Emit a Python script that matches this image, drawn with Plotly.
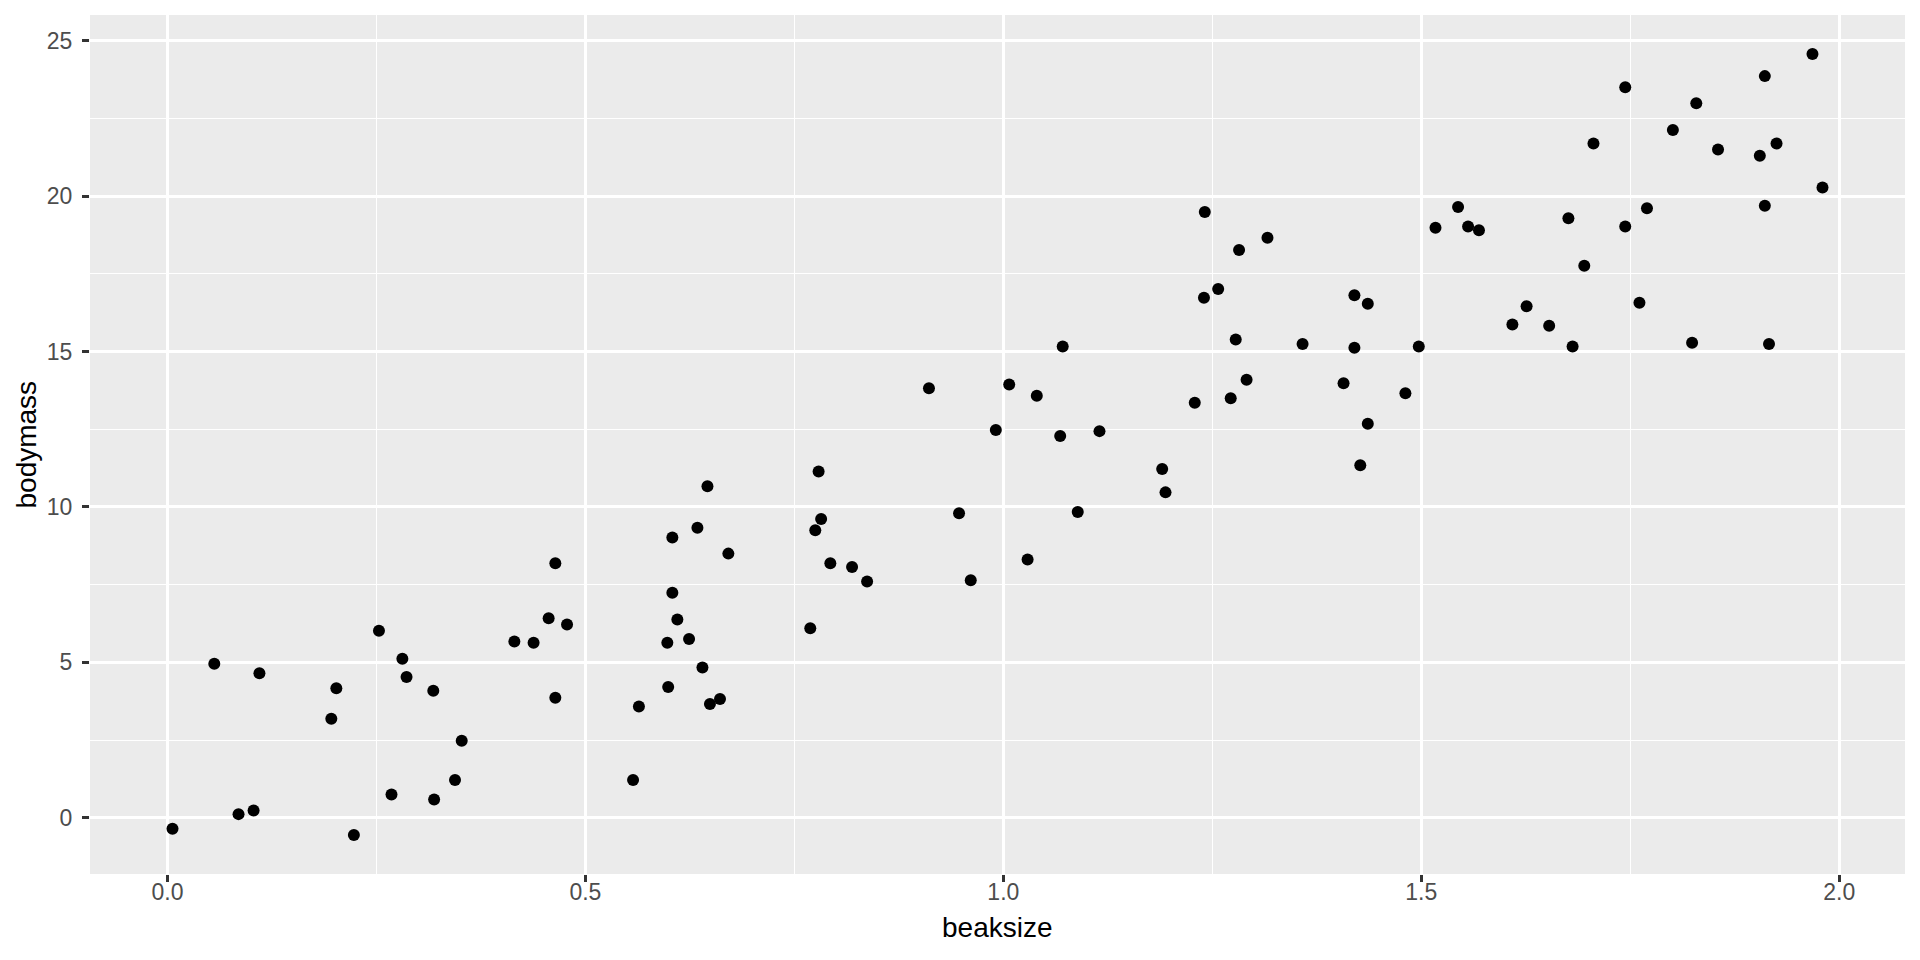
import plotly.graph_objects as go

beaksize = [0.006, 0.056, 0.085, 0.103, 0.110, 0.196, 0.202, 0.223, 0.253, 0.268,
            0.281, 0.286, 0.318, 0.319, 0.344, 0.352, 0.415, 0.438, 0.456, 0.464,
            0.464, 0.478, 0.557, 0.564, 0.598, 0.599, 0.604, 0.604, 0.610, 0.624,
            0.634, 0.640, 0.646, 0.649, 0.661, 0.671, 0.769, 0.775, 0.779, 0.782,
            0.793, 0.819, 0.837, 0.911, 0.947, 0.961, 0.991, 1.007, 1.029, 1.040,
            1.068, 1.071, 1.089, 1.115, 1.190, 1.194, 1.229, 1.240, 1.241, 1.257,
            1.272, 1.278, 1.282, 1.291, 1.316, 1.358, 1.407, 1.420, 1.420, 1.427,
            1.436, 1.436, 1.481, 1.497, 1.517, 1.544, 1.556, 1.569, 1.609, 1.626,
            1.653, 1.676, 1.681, 1.695, 1.706, 1.744, 1.744, 1.761, 1.770, 1.801,
            1.824, 1.829, 1.855, 1.905, 1.911, 1.911, 1.916, 1.925, 1.968, 1.980]

bodymass = [-0.35, 4.96, 0.12, 0.24, 4.65, 3.19, 4.17, -0.55, 6.02, 0.75,
            5.12, 4.53, 4.09, 0.59, 1.22, 2.48, 5.67, 5.63, 6.42, 8.19,
            3.86, 6.22, 1.22, 3.58, 5.63, 4.21, 9.02, 7.24, 6.38, 5.75,
            9.33, 4.84, 10.67, 3.66, 3.82, 8.50, 6.10, 9.25, 11.14, 9.61,
            8.19, 8.07, 7.60, 13.82, 9.80, 7.64, 12.48, 13.94, 8.31, 13.58,
            12.28, 15.16, 9.84, 12.44, 11.22, 10.47, 13.35, 16.73, 19.49, 17.01,
            13.50, 15.39, 18.27, 14.09, 18.66, 15.24, 13.98, 16.81, 15.12, 11.34,
            16.54, 12.68, 13.66, 15.16, 18.98, 19.65, 19.02, 18.90, 15.87, 16.46,
            15.83, 19.29, 15.16, 17.76, 21.69, 23.50, 19.02, 16.57, 19.61, 22.13,
            15.28, 22.99, 21.50, 21.30, 23.86, 19.69, 15.24, 21.69, 24.57, 20.28]

x_ticks = [0.0, 0.5, 1.0, 1.5, 2.0]
x_tick_labels = ["0.0", "0.5", "1.0", "1.5", "2.0"]
y_ticks = [0, 5, 10, 15, 20, 25]
y_tick_labels = ["0", "5", "10", "15", "20", "25"]
x_title = "beaksize"
y_title = "bodymass"


def expanded(vals, frac=0.05):
    lo, hi = min(vals), max(vals)
    pad = (hi - lo) * frac
    return [lo - pad, hi + pad]


FONT = "Liberation Sans, Arial, Helvetica, sans-serif"

fig = go.Figure(go.Scatter(
    x=beaksize, y=bodymass, mode="markers",
    marker=dict(color="black", size=12, line=dict(width=0)),
    hoverinfo="x+y",
))

axis_common = dict(
    showline=False, zeroline=False, automargin=False,
    showgrid=True, gridcolor="white", gridwidth=2.9,
    ticks="outside", ticklen=7, tickwidth=2.8, tickcolor="#333333",
    tickfont=dict(family=FONT, size=23, color="#4d4d4d"),
)

fig.update_layout(
    width=1920, height=960,
    paper_bgcolor="white", plot_bgcolor="#EBEBEB",
    margin=dict(l=82, r=23, t=7, b=94),
    showlegend=False,
    xaxis=dict(
        axis_common, range=expanded(beaksize),
        tickvals=x_ticks, ticktext=x_tick_labels,
        ticklabelstandoff=-10,
        minor=dict(dtick=0.25, tick0=0, showgrid=True, gridcolor="white", gridwidth=1.4, ticks=""),
    ),
    yaxis=dict(
        axis_common, range=expanded(bodymass),
        tickvals=y_ticks, ticktext=y_tick_labels,
        ticklabelstandoff=5,
        minor=dict(dtick=2.5, tick0=0, showgrid=True, gridcolor="white", gridwidth=1.4, ticks=""),
    ),
    annotations=[
        dict(text=x_title, xref="paper", yref="paper", x=0.5, y=0,
             xanchor="center", yanchor="middle", yshift=-53, showarrow=False,
             font=dict(family=FONT, size=28, color="black")),
        dict(text=y_title, xref="paper", yref="paper", x=0, y=0.5,
             xanchor="center", yanchor="middle", xshift=-64, textangle=-90,
             showarrow=False, font=dict(family=FONT, size=28, color="black")),
    ],
)

fig.write_html("out.html")
